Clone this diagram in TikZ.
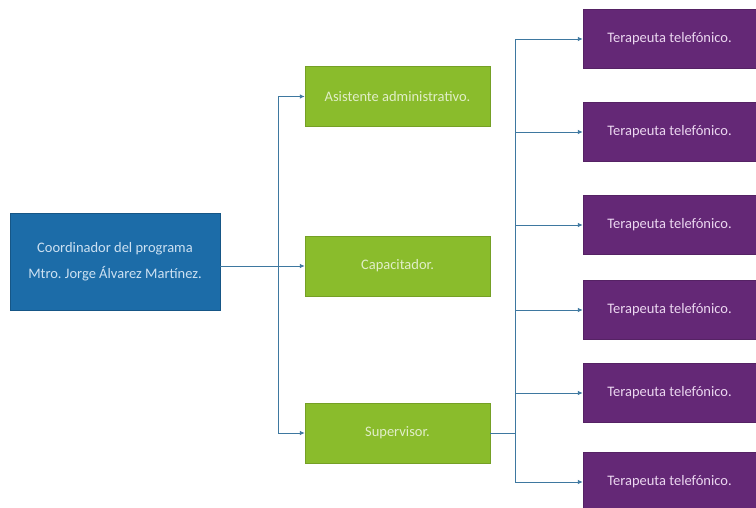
\documentclass[tikz,border=0pt]{standalone}
\usepackage{fontspec}
\setmainfont{Carlito}
\frenchspacing
\usetikzlibrary{arrows.meta}
\definecolor{cblue}{RGB}{28,108,168}
\definecolor{cgreen}{RGB}{138,188,44}
\definecolor{cpurple}{RGB}{100,40,118}
\definecolor{cline}{RGB}{62,120,160}
\definecolor{tblue}{RGB}{205,225,242}
\definecolor{tgreen}{RGB}{225,238,200}
\definecolor{tpurple}{RGB}{235,215,240}
\tikzset{
  bluebox/.style={fill=cblue, draw=cblue!80!black, minimum width=210pt, minimum height=97pt, text=tblue, font=\fontsize{14.5}{16}\selectfont, align=center, inner sep=0pt},
  greenbox/.style={fill=cgreen, draw=cgreen!85!black, minimum width=185pt, minimum height=60pt, text=tgreen, font=\fontsize{14.5}{16}\selectfont, inner sep=0pt},
  purplebox/.style={fill=cpurple, draw=cpurple!85!black, minimum width=173pt, minimum height=59pt, text=tpurple, font=\fontsize{14.5}{16}\selectfont, inner sep=0pt},
  conn/.style={draw=cline, line width=0.9pt},
  arr/.style={conn, -{Latex[length=5pt,width=4.5pt]}}
}
\begin{document}
\begin{tikzpicture}[x=1pt,y=-1pt]
\useasboundingbox (0,0) rectangle (756,508);
\fill[white] (0,0) rectangle (756,508);
\node[bluebox] (coord) at (115,261.5) {Coordinador del programa\\[10pt]Mtro.\ Jorge Álvarez Martínez.};
\node[greenbox] (asis) at (397.5,96.5) {Asistente administrativo.};
\node[greenbox] (cap) at (397.5,266) {Capacitador.};
\node[greenbox] (sup) at (397.5,433) {Supervisor.};
\node[purplebox] (p1) at (669.5,39) {Terapeuta telefónico.};
\node[purplebox] (p2) at (669.5,132) {Terapeuta telefónico.};
\node[purplebox] (p3) at (669.5,225) {Terapeuta telefónico.};
\node[purplebox] (p4) at (669.5,310) {Terapeuta telefónico.};
\node[purplebox] (p5) at (669.5,393) {Terapeuta telefónico.};
\node[purplebox, minimum height=60pt] (p6) at (669.5,482) {Terapeuta telefónico.};
\coordinate (busA) at (278,266);
\coordinate (busB) at (515,433);
\draw[arr] (coord.east |- busA) -- (cap.west);
\draw[arr] (busA) |- (asis.west);
\draw[arr] (busA) |- (sup.west);
\draw[conn] (sup.east) -- (busB);
\foreach \p in {p1,p2,p3,p4,p5,p6} {
  \draw[arr] (busB) |- (\p.west);
}
\end{tikzpicture}
\end{document}
